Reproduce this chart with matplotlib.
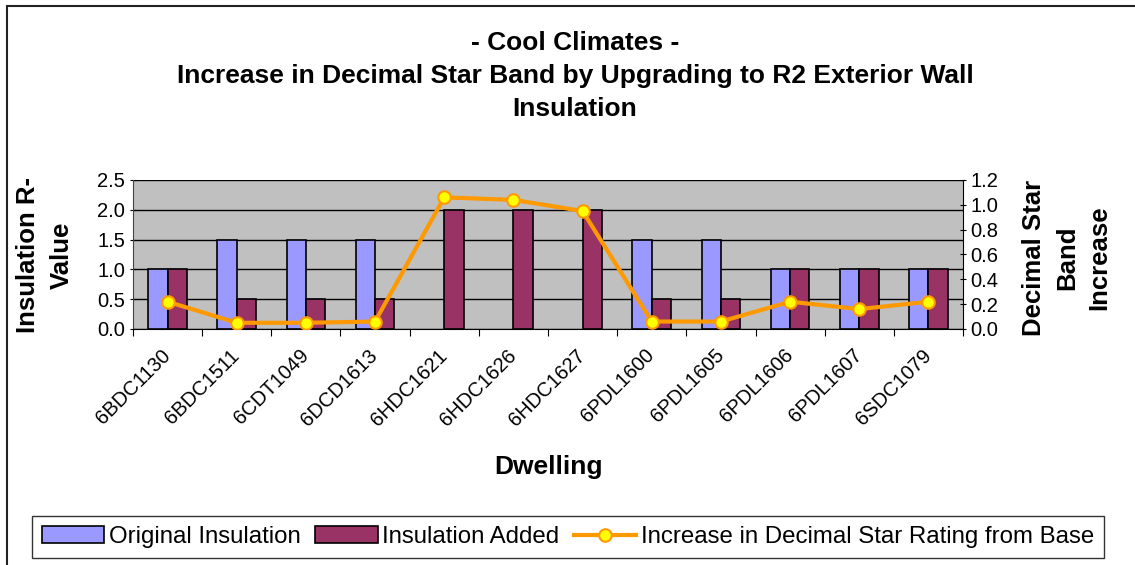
import numpy as np
import matplotlib.pyplot as plt
from matplotlib.patches import Rectangle

plt.rcParams['font.family'] = ['Liberation Sans', 'DejaVu Sans']

# datos
viviendas = ["6BDC1130", "6BDC1511", "6CDT1049", "6DCD1613", "6HDC1621", "6HDC1626",
             "6HDC1627", "6PDL1600", "6PDL1605", "6PDL1606", "6PDL1607", "6SDC1079"]
aislacion_original = [1.0, 1.5, 1.5, 1.5, 0.0, 0.0, 0.0, 1.5, 1.5, 1.0, 1.0, 1.0]
aislacion_agregada = [1.0, 0.5, 0.5, 0.5, 2.0, 2.0, 2.0, 0.5, 0.5, 1.0, 1.0, 1.0]
aumento_estrellas = [0.22, 0.05, 0.05, 0.06, 1.06, 1.04, 0.95, 0.06, 0.06, 0.22, 0.16, 0.22]

fig = plt.figure(figsize=(11.35, 5.65), dpi=100)
# marco exterior del grafico
fig.patches.append(Rectangle((7 / 1135, -0.05), 1.1, (1 - 6 / 565) + 0.05, transform=fig.transFigure,
                             fill=False, edgecolor="#222222", linewidth=1.5))

ax = fig.add_axes([133 / 1135, 1 - 329 / 565, 830 / 1135, 149 / 565])
ax.set_facecolor("#C0C0C0")
x = np.arange(len(viviendas))
w = 0.28
# barras con valor 0 sin borde (como en Excel)
lw1 = [1.2 if v > 0 else 0 for v in aislacion_original]
b1 = ax.bar(x - w / 2, aislacion_original, w, color="#9999FF", edgecolor="black", linewidth=lw1,
            label="Original Insulation", zorder=3)
b2 = ax.bar(x + w / 2, aislacion_agregada, w, color="#993366", edgecolor="black", linewidth=1.2,
            label="Insulation Added", zorder=3)
ax.set_xlim(-0.5, len(viviendas) - 0.5)
ax.set_ylim(0, 2.5)
ax.set_yticks(np.arange(0, 2.51, 0.5))
ax.set_yticklabels([f"{v:.1f}" for v in np.arange(0, 2.51, 0.5)], fontsize=14.5)
ax.yaxis.grid(True, color="black", linewidth=1, zorder=0)
ax.set_axisbelow(True)
ax.set_xticks(np.arange(-0.5, len(viviendas), 1), minor=False)
ax.set_xticklabels([])
ax.set_xticks(x - 0.1, minor=True)
ax.set_xticklabels(viviendas, minor=True, rotation=45, ha="right", va="top",
                   rotation_mode="anchor", fontsize=14.5)
ax.tick_params(axis="x", which="minor", length=0, pad=12)
ax.tick_params(axis="x", which="major", length=5, direction="out")
ax.tick_params(axis="y", length=5, direction="inout", pad=3)
for s in ["top", "right"]:
    ax.spines[s].set_visible(False)
ax.spines["left"].set_color("#444444")
ax.spines["bottom"].set_color("black")

ax2 = ax.twinx()
l1, = ax2.plot(x, aumento_estrellas, color="#FF9900", linewidth=3, marker="o", markersize=9,
               markerfacecolor="#FFFF00", markeredgecolor="#FF9900", markeredgewidth=1.5,
               label="Increase in Decimal Star Rating from Base", zorder=5)
ax2.set_ylim(0, 1.2)
ax2.set_yticks(np.arange(0, 1.21, 0.2))
ax2.set_yticklabels([f"{v:.1f}" for v in np.arange(0, 1.21, 0.2)], fontsize=14.5)
ax2.tick_params(axis="y", length=5, direction="inout", pad=3)
for s in ["top", "left", "bottom"]:
    ax2.spines[s].set_visible(False)
ax2.spines["right"].set_color("black")

fig.text(575 / 1135, 1 - 76 / 565, "- Cool Climates -\nIncrease in Decimal Star Band by Upgrading to R2 Exterior Wall\nInsulation",
         ha="center", va="center", fontsize=19, fontweight="bold", linespacing=1.45)
fig.text(45 / 1135, 1 - 255 / 565, "Insulation R-\nValue", rotation=90, ha="center", va="center",
         fontsize=18.5, fontweight="bold", linespacing=1.5)
fig.text(1067 / 1135, 1 - 258 / 565, "Decimal Star\nBand\nIncrease", rotation=90, ha="center", va="center",
         fontsize=18.5, fontweight="bold", linespacing=1.45)
fig.text(548 / 1135, 1 - 467 / 565, "Dwelling", ha="center", va="center", fontsize=19, fontweight="bold")

leg = fig.legend(handles=[b1, b2, l1], loc="center", bbox_to_anchor=(568 / 1135, 1 - 537 / 565),
                 ncol=3, fontsize=17.3, frameon=True, fancybox=False, edgecolor="black",
                 handlelength=2.6, handletextpad=0.2, columnspacing=0.6, borderpad=0.4)
leg.get_frame().set_linewidth(1)

fig.savefig("out.png", dpi=100)
